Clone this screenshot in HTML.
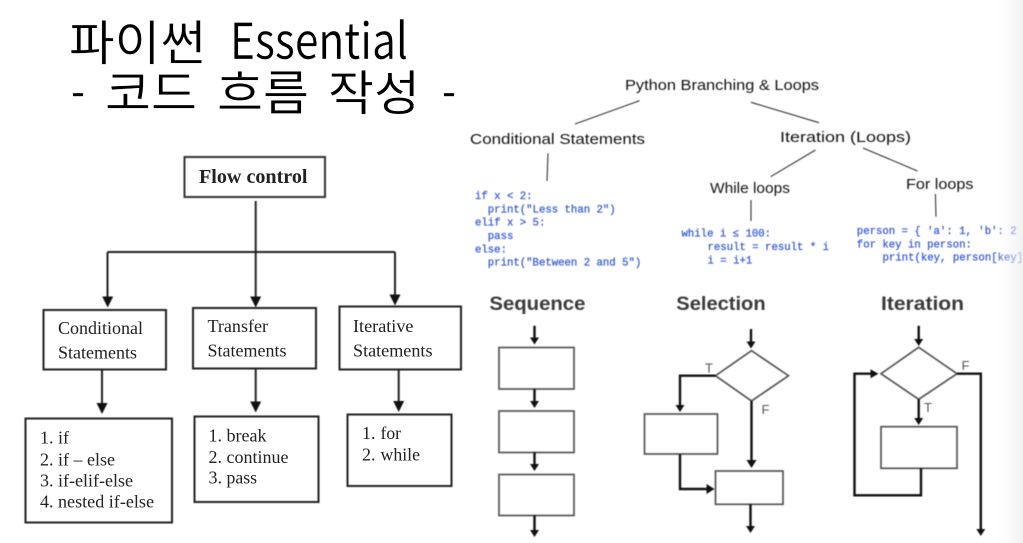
<!DOCTYPE html>
<html><head><meta charset="utf-8">
<style>
html,body{margin:0;padding:0;background:#fff;width:1023px;height:543px;overflow:hidden}
svg{display:block;position:absolute;left:0;top:0}
.ti{font-family:"Noto Sans CJK KR","Liberation Sans",sans-serif;font-size:48px;font-weight:400;fill:#000;stroke:#fff;stroke-width:.35px}
.s{font-family:"Liberation Serif",serif;font-size:18px;fill:#222}
.h{font-family:"Liberation Sans",sans-serif;font-size:15px;fill:#111}
.c{font-family:"Liberation Mono",monospace;font-size:10.67px;fill:#3558d8;stroke:#3558d8;stroke-width:.25px;white-space:pre}
.g{font-family:"Liberation Sans",sans-serif;font-size:19px;font-weight:700;fill:#3a3a3a}
.l{font-family:"Liberation Sans",sans-serif;font-size:13px;fill:#555}
</style></head><body>
<svg width="1023" height="543" viewBox="0 0 1023 543" xmlns="http://www.w3.org/2000/svg">
<defs><linearGradient id="e" x1="0" x2="1" y1="0" y2="0"><stop offset="0" stop-color="#fff" stop-opacity="0"/><stop offset="1" stop-color="#ececec"/></linearGradient></defs>

<g style="filter:blur(.3px)">
<text class="ti" x="69" y="60" textLength="137" lengthAdjust="spacingAndGlyphs">파이썬</text>
<text class="ti" x="230" y="59" textLength="178" lengthAdjust="spacingAndGlyphs" style="font-size:50px">Essential</text>
<text class="ti" x="71" y="108" textLength="14" lengthAdjust="spacingAndGlyphs">-</text>
<text class="ti" x="105" y="110" textLength="92" lengthAdjust="spacingAndGlyphs">코드</text>
<text class="ti" x="217" y="110" textLength="92" lengthAdjust="spacingAndGlyphs">흐름</text>
<text class="ti" x="328" y="110" textLength="92" lengthAdjust="spacingAndGlyphs">작성</text>
<text class="ti" x="442" y="108" textLength="14" lengthAdjust="spacingAndGlyphs">-</text>
</g>

<g style="filter:blur(.45px)" fill="none" stroke="#222" stroke-width="2">
<rect x="184.500" y="157" width="140.500" height="40" stroke="#333"/>
<path d="M255.700 201V300M107.500 252H395M107.500 252V300M395 252V298"/>
<rect x="43.500" y="310" width="122.500" height="59.500"/>
<rect x="193" y="308" width="123" height="60.500"/>
<rect x="339.500" y="306.500" width="121.500" height="63"/>
<path d="M102 370V406M255.700 369V405M398.700 370V404"/>
<rect x="25.500" y="418.500" width="146.500" height="104"/>
<rect x="194.500" y="416.500" width="124" height="85.500"/>
<rect x="347.500" y="414.500" width="104" height="71.500"/>
<g fill="#111" stroke="none">
<path d="M107.700 307.500L102.200 296.500H113.200z"/>
<path d="M255.700 307.500L250.200 296.500H261.200z"/>
<path d="M395 305.500L389.500 294.500H400.500z"/>
<path d="M102 414L96.500 403H107.500z"/>
<path d="M255.700 412.500L250.200 401.500H261.200z"/>
<path d="M398.700 412L393.200 401H404.200z"/>
</g>
</g>

<g style="filter:blur(.35px)">
<text class="s" x="199" y="183" style="font-weight:700;font-size:20px" textLength="108.500" lengthAdjust="spacingAndGlyphs">Flow control</text>
<text class="s" x="58" y="334" textLength="85" lengthAdjust="spacingAndGlyphs">Conditional</text>
<text class="s" x="58" y="358.500" textLength="79" lengthAdjust="spacingAndGlyphs">Statements</text>
<text class="s" x="207.500" y="332" textLength="60.500" lengthAdjust="spacingAndGlyphs">Transfer</text>
<text class="s" x="207.500" y="356.500" textLength="79" lengthAdjust="spacingAndGlyphs">Statements</text>
<text class="s" x="353" y="332" textLength="60.500" lengthAdjust="spacingAndGlyphs">Iterative</text>
<text class="s" x="353" y="356.500" textLength="79.500" lengthAdjust="spacingAndGlyphs">Statements</text>

<text class="s" x="40" y="443.500">1.</text><text class="s" x="58" y="443.500">if</text>
<text class="s" x="40" y="465.500">2.</text><text class="s" x="58" y="465.500" textLength="57" lengthAdjust="spacingAndGlyphs">if – else</text>
<text class="s" x="40" y="486.500">3.</text><text class="s" x="58" y="486.500" textLength="75" lengthAdjust="spacingAndGlyphs">if-elif-else</text>
<text class="s" x="40" y="507.500">4.</text><text class="s" x="58" y="507.500" textLength="96" lengthAdjust="spacingAndGlyphs">nested if-else</text>

<text class="s" x="208.500" y="441.500">1.</text><text class="s" x="226.500" y="441.500" textLength="40" lengthAdjust="spacingAndGlyphs">break</text>
<text class="s" x="208.500" y="463">2.</text><text class="s" x="226.500" y="463" textLength="62" lengthAdjust="spacingAndGlyphs">continue</text>
<text class="s" x="208.500" y="483.500">3.</text><text class="s" x="226.500" y="483.500" textLength="30.500" lengthAdjust="spacingAndGlyphs">pass</text>

<text class="s" x="362" y="439">1.</text><text class="s" x="380.500" y="439" textLength="20.500" lengthAdjust="spacingAndGlyphs">for</text>
<text class="s" x="362" y="460.500">2.</text><text class="s" x="380.500" y="460.500" textLength="39.500" lengthAdjust="spacingAndGlyphs">while</text>
</g>

<g style="filter:blur(.4px)">
<text class="h" x="625" y="90" textLength="194" lengthAdjust="spacingAndGlyphs">Python Branching &amp; Loops</text>
<text class="h" x="470" y="144" textLength="175" lengthAdjust="spacingAndGlyphs">Conditional Statements</text>
<text class="h" x="780" y="142" textLength="131" lengthAdjust="spacingAndGlyphs">Iteration (Loops)</text>
<text class="h" x="710" y="193" textLength="80" lengthAdjust="spacingAndGlyphs">While loops</text>
<text class="h" x="906" y="189" textLength="67.500" lengthAdjust="spacingAndGlyphs">For loops</text>
<g stroke="#333" stroke-width="1.100" fill="none">
<path d="M639.500 100.700L575 124M751 102.300L819 122.700M548 153.300L547 181M815.500 150L770.600 176.700M863 148L917.500 171M751 200V221M935.400 194L936 216.700"/>
</g>
<text class="c" x="475" y="199">if x &lt; 2:</text>
<text class="c" x="475" y="212.300">  print("Less than 2")</text>
<text class="c" x="475" y="225.700">elif x &gt; 5:</text>
<text class="c" x="475" y="239">  pass</text>
<text class="c" x="475" y="252.300">else:</text>
<text class="c" x="475" y="265.700">  print("Between 2 and 5")</text>
<text class="c" x="681.500" y="236.700">while i ≤ 100:</text>
<text class="c" x="707.500" y="250">result = result * i</text>
<text class="c" x="707.500" y="263.300">i = i+1</text>
<text class="c" x="856.800" y="234">person = { 'a': 1, 'b': 2 }</text>
<text class="c" x="856.800" y="247.300">for key in person:</text>
<text class="c" x="882.500" y="260.700">print(key, person[key])</text>
</g>

<g style="filter:blur(.55px)">
<text class="g" x="489.400" y="310" textLength="96" lengthAdjust="spacingAndGlyphs">Sequence</text>
<text class="g" x="676.300" y="310" textLength="89.300" lengthAdjust="spacingAndGlyphs">Selection</text>
<text class="g" x="881" y="310" textLength="83" lengthAdjust="spacingAndGlyphs">Iteration</text>
<text class="l" x="705" y="372.500">T</text>
<text class="l" x="761.500" y="414">F</text>
<text class="l" x="961.500" y="370">F</text>
<text class="l" x="924" y="412">T</text>
<g fill="none" stroke="#555" stroke-width="1.700">
<rect x="499" y="347.500" width="75" height="41.500"/>
<rect x="499" y="411" width="75" height="41.500"/>
<rect x="499" y="474.500" width="75" height="41"/>
<path d="M751.500 350.700L788.500 375.700L751.500 401L715.500 375.700z"/>
<rect x="644.500" y="414" width="73" height="40"/>
<rect x="715.500" y="471" width="67.500" height="33.300"/>
<path d="M918.700 347.300L957 373.700L918.700 399.300L881 373.700z"/>
<rect x="881" y="426.700" width="76" height="41.600"/>
</g>
<g fill="none" stroke="#111" stroke-width="2.400">
<path d="M534.500 325.700V340M534.500 389V403M534.500 452.300V466M534.500 515.300V531"/>
<path d="M751 329V343M715.500 375.700H680V406M751.500 401V461M680 454V489H708M750.500 504.300V527"/>
<path d="M918.700 325.700V341M957 373.700H980.800V530M918.700 399.300V419M921 468.300V495.300H854.500V373.700H872"/>
</g>
<g fill="#111">
<path d="M534.500 344.500l-4.500-7h9zM534.500 408l-4.500-7h9zM534.500 471l-4.500-7h9zM534.500 537l-4.500-7h9z"/>
<path d="M751 348.500l-4.500-7h9zM680 412l-4.500-7h9zM751.500 468l-5-8h10zM714.500 489l-8-5v10zM750.500 533l-4.500-7h9z"/>
<path d="M918.700 346l-4.500-7h9zM918.700 425l-4.500-7h9zM980.800 536l-4.500-7h9zM878.500 373.700l-8-4.500v9z"/>
</g>
</g>

<rect x="990" y="0" width="33" height="543" fill="url(#e)" opacity=".75"/>
</svg>
</body></html>
